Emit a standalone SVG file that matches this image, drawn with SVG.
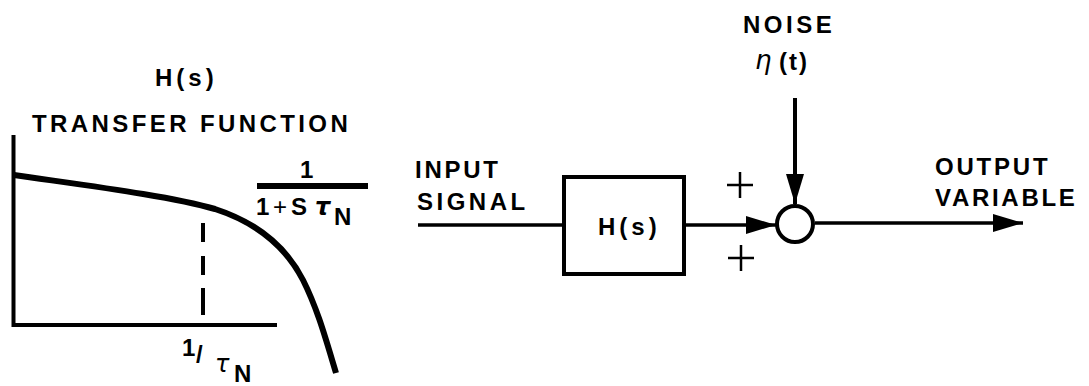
<svg xmlns="http://www.w3.org/2000/svg" width="1089" height="386" viewBox="0 0 1089 386">
<style>
.t{font-family:"Liberation Sans",Arial,sans-serif;font-weight:bold;font-size:24px;fill:#000}
.g{font-family:"DejaVu Sans","Liberation Sans",sans-serif;font-style:italic;fill:#000}
.ln{stroke:#000;fill:none;stroke-linecap:butt}
</style>
<defs>
<marker id="ah" markerUnits="userSpaceOnUse" markerWidth="32" markerHeight="20" refX="30" refY="9" orient="auto">
<path d="M0,0 L30,9 L0,18 z" fill="#000"/>
</marker>
</defs>
<rect width="1089" height="386" fill="#fff"/>

<g id="graph">
<text class="t" x="155" y="86" font-size="23" letter-spacing="4">H(s)</text>
<text class="t" x="32" y="132" font-size="24" letter-spacing="3.4">TRANSFER FUNCTION</text>
<path class="ln" stroke-width="4" d="M13.5,135 V327 M11.5,325 H277"/>
<path class="ln" stroke-width="6" d="M14,175 C90,186 170,196 215,209 C255,222 285,245 303,280 C318,310 326,340 336,373"/>
<path class="ln" stroke-width="4" d="M203,223 V242 M203,256 V275 M203,288 V315"/>
<text class="t" x="300" y="178">1</text>
<line class="ln" stroke-width="6" x1="257" y1="186" x2="368" y2="186"/>
<text class="t" y="215"><tspan x="256">1</tspan><tspan x="273" font-weight="normal">+</tspan><tspan x="291">S</tspan><tspan class="g" x="315" font-size="24">τ</tspan><tspan x="334" y="225">N</tspan></text>
<text class="t" x="182" y="356" font-size="25">1</text>
<text class="t" x="196" y="363" font-size="22">/</text>
<text class="g" x="215" y="372" font-size="24">τ</text>
<text class="t" x="234" y="382" font-size="24">N</text>
</g>

<g id="input-label">
<text class="t" x="415" y="178" letter-spacing="2.75">INPUT</text>
<text class="t" x="417" y="210" letter-spacing="3.5">SIGNAL</text>
</g>

<g id="box">
<rect x="564" y="177" width="120" height="97" fill="none" stroke="#000" stroke-width="4"/>
<text class="t" x="598" y="235" font-size="23" letter-spacing="4">H(s)</text>
</g>

<g id="sum">
<circle cx="795" cy="224" r="18" fill="none" stroke="#000" stroke-width="4"/>
<path class="ln" stroke-width="2.5" d="M727,185 H753 M740,172 V198 M728,258 H754 M741,245 V271"/>
</g>

<g id="noise-label">
<text class="t" x="743" y="33" letter-spacing="3.5">NOISE</text>
<text class="g" x="755" y="69" font-size="26">η</text>
<text class="t" x="779" y="70" letter-spacing="2">(t)</text>
</g>

<g id="output-label">
<text class="t" x="935" y="175" letter-spacing="2.8">OUTPUT</text>
<text class="t" x="935" y="206" letter-spacing="2.7">VARIABLE</text>
</g>

<g id="connectors">
<line class="ln" stroke-width="3.5" x1="418" y1="225" x2="564" y2="225"/>
<line class="ln" stroke-width="3.5" x1="686" y1="225" x2="776" y2="225" marker-end="url(#ah)"/>
<line class="ln" stroke-width="4" x1="795" y1="98" x2="795" y2="204" marker-end="url(#ah)"/>
<line class="ln" stroke-width="3.5" x1="815" y1="223" x2="1023" y2="223" marker-end="url(#ah)"/>
</g>
</svg>
